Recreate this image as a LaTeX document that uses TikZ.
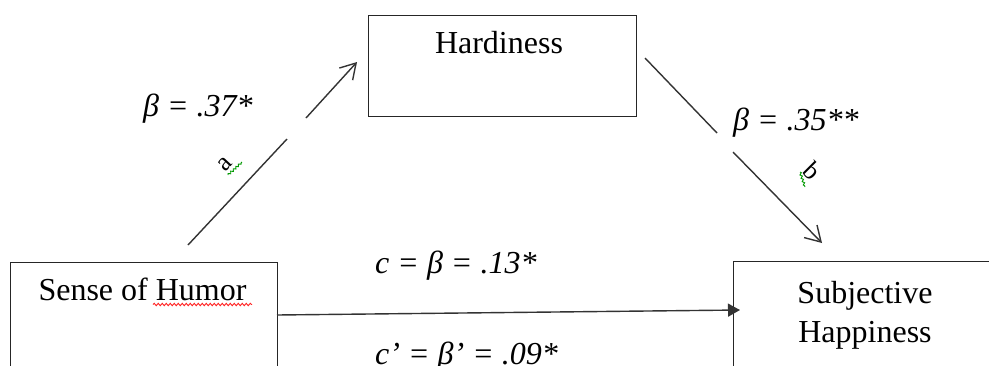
\documentclass[tikz,border=0pt]{standalone}
\usepackage{fontspec}
\setmainfont{Liberation Serif}
\usetikzlibrary{arrows.meta,decorations.pathmorphing}
\begin{document}
\begin{tikzpicture}[x=1pt,y=-1pt,
  box/.style={draw=black!85, line width=1.4pt, inner sep=0pt},
  txt/.style={font=\fontsize{32}{37}\selectfont, inner sep=0pt, anchor=base},
  lab/.style={font=\fontsize{32}{37}\selectfont\itshape, inner sep=0pt, anchor=base west},
  small/.style={font=\fontsize{26}{30}\selectfont, inner sep=0pt},
  conn/.style={draw=black!80, line width=1.4pt},
  opentip/.style={conn, -{Straight Barb[length=15pt,width=18pt,line width=1.4pt]}},
  filltip/.style={conn, -{Triangle[length=12pt,width=13pt]}},
  spell/.style={decorate, decoration={snake, amplitude=1.2pt, segment length=4pt}, line width=0.9pt}
]
\clip (0,0) rectangle (989,365);
\fill[white] (0,0) rectangle (989,365);
% boxes
\node[box, minimum width=268pt, minimum height=101pt, anchor=north west] (hard) at (368,15) {};
\node[txt] (hardt) at (499,53) {Hardiness};
\node[box, minimum width=267pt, minimum height=160pt, anchor=north west] (humor) at (10,262) {};
\node[txt] (humort) at (142.5,300) {Sense of Humor};
\node[box, minimum width=290pt, minimum height=160pt, anchor=north west] (happy) at (733,261) {};
\node[txt] (happyt1) at (865,303) {Subjective};
\node[txt] (happyt2) at (865,342) {Happiness};
% spelling marks
\draw[spell, red!85] (153,304.5) -- (252,304.5);
% path a
\coordinate (a0) at (188,245);
\coordinate (a1) at (287,139);
\coordinate (a2) at (306,118);
\coordinate (a3) at (357,62);
\draw[conn] (a0) -- (a1);
\draw[opentip] (a2) -- (a3);
% path b
\coordinate (b0) at (645,58);
\coordinate (b1) at (717,133);
\coordinate (b2) at (733,152);
\coordinate (b3) at (822,243);
\draw[conn] (b0) -- (b1);
\draw[opentip] (b2) -- (b3);
% path c
\coordinate (c0) at (277,315);
\coordinate (c1) at (740,310);
\draw[filltip] (c0) -- (c1);
% labels
\node[lab] (la) at (143,116) {β = .37*};
\node[lab] (lb) at (733,130) {β = .35**};
\node[lab] (lc) at (375,273) {c = β = .13*};
\node[lab] (lc2) at (375,364) {c’ = β’ = .09*};
\node[small, rotate=47] (sa) at (225,164) {a};
\node[small, rotate=-45] (sb) at (812,171) {b};
\draw[spell, green!60!black, decoration={amplitude=1pt, segment length=3.5pt}] (228,175) -- (242,162);
\draw[spell, green!60!black, decoration={amplitude=1pt, segment length=3.5pt}] (800,172) -- (805,187);
\end{tikzpicture}
\end{document}
